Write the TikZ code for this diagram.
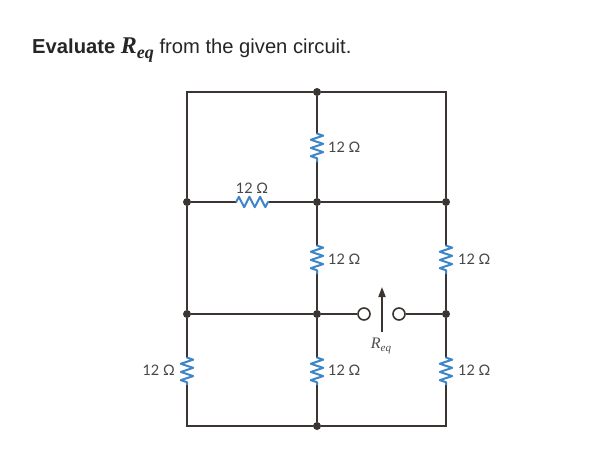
\documentclass[tikz,border=0pt]{standalone}
\usepackage{fontspec}
\setmainfont{Liberation Sans}
\newfontfamily\serifbi{Liberation Serif}
\newfontfamily\labelfont{Lato}
\usetikzlibrary{decorations.pathmorphing,arrows.meta}
\definecolor{wire}{HTML}{3A3532}
\definecolor{resblue}{HTML}{3F86C8}
\tikzset{
  x=1pt,y=-1pt,
  wireline/.style={draw=wire,line width=2pt},
  res/.style={draw=resblue,line width=2pt,line join=round,decorate,
    decoration={zigzag,amplitude=6.2pt,segment length=8.2pt,pre length=0.6pt,post length=0.6pt}},
  hres/.style={res,decoration={zigzag,amplitude=5.2pt,segment length=10.6pt,pre length=0.2pt,post length=0.2pt}},
  dotnode/.style={circle,fill=wire,inner sep=0pt,minimum size=8pt},
  termnode/.style={circle,draw=wire,fill=white,line width=1.6pt,inner sep=0pt,minimum size=12pt},
  val/.style={font=\labelfont\fontsize{14.5}{16}\selectfont,text=black!72,inner sep=0pt},
}
\begin{document}
\begin{tikzpicture}
\useasboundingbox (0,0) rectangle (610,475);
\fill[white] (0,0) rectangle (610,475);
% corners and junctions
\coordinate (tl) at (187,92);
\coordinate (tr) at (446,92);
\coordinate (bl) at (187,426);
\coordinate (br) at (446,426);
\node[dotnode] (tm) at (317,92) {};
\node[dotnode] (ml) at (187,202) {};
\node[dotnode] (mm) at (317,202) {};
\node[dotnode] (mr) at (446,202) {};
\node[dotnode] (ll) at (187,314) {};
\node[dotnode] (lm) at (317,314) {};
\node[dotnode] (lr) at (446,314) {};
\node[dotnode] (bm) at (317,426) {};
\node[termnode] (ta) at (364,314) {};
\node[termnode] (tb) at (399,314) {};
% resistor ends
\coordinate (r1a) at (317,133); \coordinate (r1b) at (317,162);
\coordinate (r2a) at (236,202); \coordinate (r2b) at (269,202);
\coordinate (r3a) at (317,245); \coordinate (r3b) at (317,274);
\coordinate (r4a) at (446,245); \coordinate (r4b) at (446,274);
\coordinate (r5a) at (317,357); \coordinate (r5b) at (317,385);
\coordinate (r6a) at (446,357); \coordinate (r6b) at (446,385);
\coordinate (r7a) at (187,357); \coordinate (r7b) at (187,385);
% wires
\draw[wireline,line join=miter] (tm) -- (tl) -- (ml);
\draw[wireline,line join=miter] (tm) -- (tr) -- (mr);
\draw[wireline] (ml) -- (ll) -- (r7a);
\draw[wireline,line join=miter] (r7b) -- (bl) -- (bm);
\draw[wireline,line join=miter] (bm) -- (br) -- (r6b);
\draw[wireline] (tm) -- (r1a); \draw[wireline] (r1b) -- (mm);
\draw[wireline] (ml) -- (r2a); \draw[wireline] (r2b) -- (mm);
\draw[wireline] (mm) -- (mr);
\draw[wireline] (mm) -- (r3a); \draw[wireline] (r3b) -- (lm);
\draw[wireline] (mr) -- (r4a); \draw[wireline] (r4b) -- (lr);
\draw[wireline] (lm) -- (r5a); \draw[wireline] (r5b) -- (bm);
\draw[wireline] (lr) -- (r6a);
\draw[wireline] (ll) -- (lm) -- (ta);
\draw[wireline] (tb) -- (lr);
% resistors
\draw[res] (r1a) -- (r1b);
\draw[hres] (r2a) -- (r2b);
\draw[res] (r3a) -- (r3b);
\draw[res] (r4a) -- (r4b);
\draw[res] (r5a) -- (r5b);
\draw[res] (r6a) -- (r6b);
\draw[res] (r7a) -- (r7b);
% Req arrow
\coordinate (arrb) at (382,332);
\coordinate (arrt) at (382,287);
\draw[draw=wire,line width=1.8pt,-{Triangle[length=10pt,width=7pt]}] (arrb) -- (arrt);
% labels
\node[val,anchor=west] (l1) at (328,147.5) {12 Ω};
\node[val,anchor=center] (l2) at (252,188) {12 Ω};
\node[val,anchor=west] (l3) at (328,259.5) {12 Ω};
\node[val,anchor=west] (l4) at (458,259.5) {12 Ω};
\node[val,anchor=west] (l5) at (328,370.5) {12 Ω};
\node[val,anchor=west] (l6) at (458,370.5) {12 Ω};
\node[val,anchor=east] (l7) at (175,370.5) {12 Ω};
\node[inner sep=0pt,text=black!70] (lreq) at (381,346)
  {\serifbi\itshape\fontsize{16}{18}\selectfont R\raisebox{-3pt}{\fontsize{11}{12}\selectfont eq}};
% title
\node[anchor=base west,inner sep=0pt,text=black!85] (title) at (32,53)
  {\fontsize{20.2}{24}\selectfont\textbf{Evaluate} {\serifbi\bfseries\itshape\fontsize{24}{26}\selectfont R\raisebox{-5pt}{\fontsize{18}{20}\selectfont eq}} from the given circuit.};
\end{tikzpicture}
\end{document}
